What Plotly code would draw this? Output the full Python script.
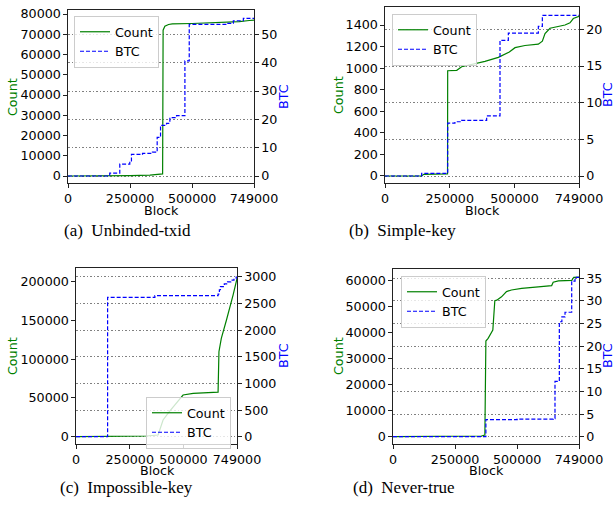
import plotly.graph_objects as go

# ---------------- data ----------------
x_ticks = [0, 250000, 500000, 749000]
x_ticklabels = ["0", "250000", "500000", "749000"]

captions = ["(a)\u00a0\u00a0Unbinded-txid", "(b)\u00a0\u00a0Simple-key",
            "(c)\u00a0\u00a0Impossible-key", "(d)\u00a0\u00a0Never-true"]

# (a) Unbinded-txid
a_count_block = [0, 170000, 250000, 330000, 378000, 381000, 383000, 390000, 405000, 420000,
                 500000, 600000, 690000, 730000, 749000]
a_count = [0, 0, 150, 400, 900, 1000, 72000, 74000, 74800, 75100, 75300, 75800, 76200, 76800, 77000]
a_btc_block = [0, 168000, 208500, 248800, 255500, 300000, 340000, 359100, 372600, 396800,
               410200, 437100, 470800, 488200, 638900, 665800, 706100, 749000]
a_btc = [0, 1.0, 4.2, 4.8, 7.6, 8.0, 8.4, 13.6, 17.9, 18.6, 20.6, 21.3, 40.6, 53.5, 53.9, 54.8, 55.6, 55.6]

# (b) Simple-key
b_count_block = [0, 141000, 150000, 241500, 242000, 277000, 296000, 386000, 437600, 463300,
                 480000, 502000, 540500, 592000, 607500, 617800, 637000, 695000, 714300, 727000, 749000]
b_count = [0, 0, 15, 20, 976, 980, 1013, 1063, 1100, 1135, 1150, 1190, 1210, 1222, 1250, 1320,
           1370, 1400, 1420, 1460, 1480]
b_btc_block = [0, 141600, 242000, 270000, 296000, 392500, 444000, 476200, 592000, 607500, 749000]
b_btc = [0, 0.36, 7.2, 7.4, 7.6, 8.2, 18.5, 19.5, 20.4, 21.9, 21.9]

# (c) Impossible-key
c_count_block = [0, 200000, 328000, 382000, 390000, 405000, 436000, 483000, 498000, 545000,
                 661000, 665000, 676000, 700000, 715000, 731000, 749000]
c_count = [0, 200, 860, 2150, 8600, 21500, 33000, 49450, 53750, 55900, 57500, 109650, 126850,
           150500, 165000, 183000, 204000]
c_btc_block = [0, 147000, 367000, 661000, 667000, 672000, 690000, 705000, 720000, 735000, 745000, 749000]
c_btc = [0, 2618, 2649, 2680, 2760, 2820, 2870, 2910, 2940, 2970, 3000, 3000]

# (d) Never-true
d_count_block = [0, 356000, 370000, 374000, 383000, 393000, 402000, 410000, 418000, 437000,
                 457000, 477000, 518000, 585000, 639000, 645000, 666000, 720000, 728000, 749000]
d_count = [0, 256, 640, 36800, 37800, 39500, 41000, 52300, 52500, 53800, 55800, 56400, 57000,
           57600, 58100, 59400, 59900, 60100, 61300, 61400]
d_btc_block = [0, 374000, 500000, 645600, 652300, 669800, 680000, 692700, 719600, 733000, 749000]
d_btc = [0, 3.76, 3.9, 4.0, 12.2, 25.4, 26.5, 27.5, 34.4, 35.2, 35.2]

panels = [
    (a_count_block, a_count, a_btc_block, a_btc),
    (b_count_block, b_count, b_btc_block, b_btc),
    (c_count_block, c_count, c_btc_block, c_btc),
    (d_count_block, d_count, d_btc_block, d_btc),
]
count_dticks = [10000, 200, 50000, 10000]
btc_dticks = [10, 5, 500, 5]
count_ranges = [[-3457, 81975], [-65, 1567], [-9460, 217630], [-2820, 64487]]
btc_ranges = [[-2.47, 58.59], [-0.955, 23.05], [-137.8, 3169], [-1.62, 37.06]]

# ---------------- layout geometry ----------------
W, H = 613, 512
px_boxes = [  # left, right, top, bottom in pixels
    (68, 254, 10, 183),
    (385, 579, 7, 183),
    (76, 237, 268, 444),
    (393, 579, 269, 444),
]
legend_pos = [(74, 16), (392, 14), (146, 397), (401, 276)]
caption_pos = [(127, 230), (402, 230), (126, 487), (404, 487)]
block_title_pos = [(161, 210), (482, 210), (157, 470), (486, 470)]
count_title_pos = [(12, 97), (338, 95), (12, 356), (338, 356)]
btc_title_pos = [(283, 97), (607, 95), (283, 356), (607, 356)]


def px(xp, yp):
    return min(max(xp / W, 0), 1), min(max(1 - yp / H, 0), 1)


FONT = "DejaVu Sans"
FS = 12.7

fig = go.Figure()
layout = dict(
    width=W, height=H, margin=dict(l=0, r=0, t=0, b=0, autoexpand=False),
    paper_bgcolor="white", plot_bgcolor="white",
    font=dict(family=FONT, size=FS, color="black"),
    annotations=[],
)


def add_text(text, pos, color="black", angle=0, family=FONT, size=FS):
    x, y = px(*pos)
    layout["annotations"].append(dict(text=text, x=x, y=y, xref="paper", yref="paper",
                                      showarrow=False, xanchor="center", yanchor="middle",
                                      textangle=angle,
                                      font=dict(family=family, size=size, color=color)))


for i, (cb, cv, bb, bv) in enumerate(panels):
    n = i + 1
    sx = "" if n == 1 else str(n)
    xr = "x" + sx
    yr = "y" + sx
    y2n = n + 4
    y2r = "y" + str(y2n)
    leg = "legend" if n == 1 else "legend" + str(n)
    fig.add_trace(go.Scatter(x=cb, y=cv, mode="lines", name="Count",
                             line=dict(color="green", width=1.2),
                             xaxis=xr, yaxis=yr, legend=leg))
    fig.add_trace(go.Scatter(x=bb, y=bv, mode="lines", name="BTC",
                             line=dict(color="blue", width=1.2, dash="4px,2px", shape="hv"),
                             xaxis=xr, yaxis=y2r, legend=leg))
    l, r, t, b = px_boxes[i]
    x0, y0 = px(l, b)
    x1, y1 = px(r, t)
    common = dict(showline=True, linecolor="#222222", linewidth=1.2, ticks="outside",
                  ticklen=3.5, tickwidth=1, tickcolor="#222222", zeroline=False,
                  automargin=False, tickformat="d", ticklabeloverflow="allow",
                  tickfont=dict(family=FONT, size=FS, color="black"))
    layout["xaxis" + sx] = dict(domain=[x0, x1], anchor=yr, range=[0, 749000], tickvals=x_ticks,
                                ticktext=x_ticklabels, mirror=True, showgrid=False, **common)
    layout["yaxis" + sx] = dict(domain=[y0, y1], anchor=xr, range=count_ranges[i],
                                dtick=count_dticks[i], tick0=0, showgrid=False, mirror=True,
                                **common)
    layout["yaxis" + str(y2n)] = dict(overlaying=yr, side="right", anchor=xr,
                                      range=btc_ranges[i], dtick=btc_dticks[i], tick0=0,
                                      showgrid=True, gridcolor="#808080", griddash="1.5px,2px",
                                      gridwidth=1, **common)
    lx, ly = px(*legend_pos[i])
    layout[leg] = dict(x=lx, y=ly, xanchor="left", yanchor="top",
                       bgcolor="rgba(255,255,255,0.8)", bordercolor="#cccccc", borderwidth=1,
                       font=dict(family=FONT, size=FS, color="black"),
                       tracegroupgap=0, itemwidth=30)
    add_text("Block", block_title_pos[i])
    add_text("Count", count_title_pos[i], color="green", angle=-90)
    add_text("BTC", btc_title_pos[i], color="blue", angle=-90)
    add_text(captions[i], caption_pos[i], family="Liberation Serif", size=17)

fig.update_layout(**layout)
# remove the browser's default 8px body margin so the figure sits at the window origin
fig.write_html("out.html", config={"displayModeBar": False},
               post_script="document.body.style.margin='0px';")
